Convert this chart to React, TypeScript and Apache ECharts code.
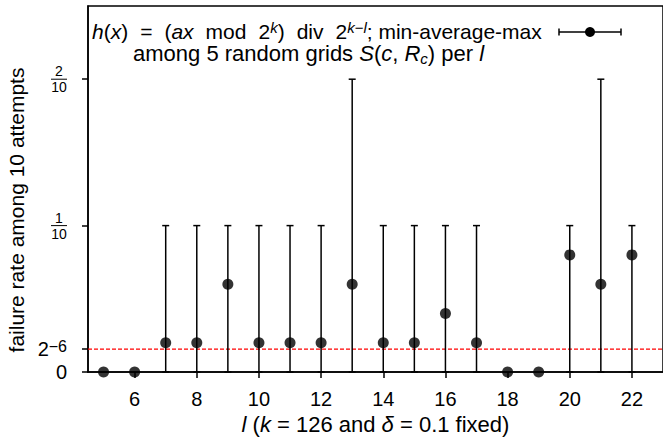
import React, { useEffect, useRef } from 'react';
import * as echarts from 'echarts';

const lValues = [5, 6, 7, 8, 9, 10, 11, 12, 13, 14, 15, 16, 17, 18, 19, 20, 21, 22];
const minRates = [0, 0, 0, 0, 0, 0, 0, 0, 0, 0, 0, 0, 0, 0, 0, 0, 0, 0];
const avgRates = [0, 0, 0.02, 0.02, 0.06, 0.02, 0.02, 0.02, 0.06, 0.02, 0.02, 0.04, 0.02, 0, 0, 0.08, 0.06, 0.08];
const maxRates = [0, 0, 0.1, 0.1, 0.1, 0.1, 0.1, 0.1, 0.2, 0.1, 0.1, 0.1, 0.1, 0, 0, 0.1, 0.2, 0.1];
const xTickValues = [6, 8, 10, 12, 14, 16, 18, 20, 22];
const threshold = Math.pow(2, -6);
const yTickValues = [0, threshold, 0.1, 0.2];
const xMin = 4.5;
const xMax = 23;
const yMin = 0;
const yMax = 0.25;

const FONT = '"Liberation Sans", Arial, Helvetica, sans-serif';
const LH = 24;

function makeRich(size: number) {
  return {
    i: { fontStyle: 'italic', fontSize: size, fontFamily: FONT, color: '#000', lineHeight: LH },
    g: { fontSize: size, fontFamily: FONT, width: 12, lineHeight: LH },
    s: { fontSize: 15, fontFamily: FONT, color: '#000', verticalAlign: 'top', lineHeight: 10 },
    si: { fontSize: 15, fontStyle: 'italic', fontFamily: FONT, color: '#000', verticalAlign: 'top', lineHeight: 10 },
    sb: { fontSize: 15, fontStyle: 'italic', fontFamily: FONT, color: '#000', verticalAlign: 'bottom', lineHeight: 14 },
  };
}

export default function App() {
  const ref = useRef<HTMLDivElement>(null);
  useEffect(() => {
    if (!ref.current) return;
    const chart = echarts.init(ref.current, null, { renderer: 'svg' });
    const barData = lValues.map((l, i) => [l, minRates[i], maxRates[i]]);
    const avgData = lValues.map((l, i) => [l, avgRates[i]]);
    const option: any = {
      animation: false,
      backgroundColor: '#fff',
      grid: { left: 88, right: -3, top: 6, bottom: 71, show: true, borderColor: '#000', borderWidth: 1.5, backgroundColor: 'transparent' },
      title: [
        {
          text: '{i|h}({i|x}){g| }={g| }({i|ax}{g| }mod{g| }2{si|k}){g| }div{g| }2{si|k}{s|−}{si|l}; min-average-max',
          left: 92, top: 19.5, padding: 0,
          textStyle: { fontSize: 21, fontWeight: 'normal', fontFamily: FONT, color: '#000', lineHeight: LH, rich: makeRich(21) },
        },
        {
          text: 'among 5 random grids {i|S}({i|c}, {i|R}{sb|c}) per {i|l}',
          left: 133, top: 41.5, padding: 0,
          textStyle: { fontSize: 22, fontWeight: 'normal', fontFamily: FONT, color: '#000', lineHeight: LH, rich: makeRich(22) },
        },
      ],
      xAxis: {
        type: 'value', min: xMin, max: xMax,
        splitLine: { show: false },
        axisLine: { show: true, onZero: false, lineStyle: { color: '#000', width: 1.5 } },
        axisTick: { show: true, customValues: xTickValues, length: 6, lineStyle: { color: '#000', width: 1.5 } },
        axisLabel: { customValues: xTickValues, margin: 17, fontSize: 20, fontFamily: FONT, color: '#000' },
        name: '{i|l} ({i|k} = 126 and {i|δ} = 0.1 fixed)',
        nameLocation: 'middle', nameGap: 39,
        nameTextStyle: { fontSize: 22, fontFamily: FONT, color: '#000', rich: { i: { fontStyle: 'italic', fontSize: 22, fontFamily: FONT, color: '#000' } } },
      },
      yAxis: {
        type: 'value', min: yMin, max: yMax,
        splitLine: { show: false },
        axisLine: { show: true, lineStyle: { color: '#000', width: 1.5 } },
        axisTick: { show: true, customValues: yTickValues, length: 6, lineStyle: { color: '#000', width: 1.5 } },
        axisLabel: {
          customValues: yTickValues, margin: 21, fontSize: 20, fontFamily: FONT, color: '#000',
          formatter: (v: number) => {
            if (v === 0) return '0';
            if (Math.abs(v - threshold) < 1e-9) return '{b|2}{s|−6}';
            const num = Math.round(v * 10);
            return '{n|' + num + '}\n{bar| }\n{n|10}';
          },
          rich: {
            b: { fontSize: 20, fontFamily: FONT, color: '#000', lineHeight: 22 },
            s: { fontSize: 16, fontFamily: FONT, color: '#000', verticalAlign: 'top', lineHeight: 13 },
            n: { fontSize: 14, fontFamily: FONT, color: '#000', lineHeight: 13, align: 'center' },
            bar: { width: 16, height: 1, lineHeight: 3, backgroundColor: '#000', align: 'center', fontSize: 1 },
          },
        },
      },
      graphic: [
        {
          type: 'text', x: 16, y: 210, rotation: Math.PI / 2,
          style: { text: 'failure rate among 10 attempts', fontSize: 21, fontFamily: FONT, fill: '#000', align: 'center', verticalAlign: 'middle' },
        },
        {
          type: 'group', x: 590, y: 32,
          children: [
            { type: 'line', shape: { x1: -31, y1: 0, x2: 31, y2: 0 }, style: { stroke: '#000', lineWidth: 1.5 } },
            { type: 'line', shape: { x1: -31, y1: -3.5, x2: -31, y2: 3.5 }, style: { stroke: '#000', lineWidth: 1.5 } },
            { type: 'line', shape: { x1: 31, y1: -3.5, x2: 31, y2: 3.5 }, style: { stroke: '#000', lineWidth: 1.5 } },
            { type: 'circle', shape: { cx: 0, cy: 0, r: 5 }, style: { fill: '#000' } },
          ],
        },
      ],
      series: [
        {
          type: 'line',
          data: [[xMin, threshold], [xMax, threshold]],
          symbol: 'none',
          color: '#ff0000',
          lineStyle: { color: '#ff0000', type: [4, 2], width: 1.3 },
          z: 2,
          silent: true,
        },
        {
          type: 'custom',
          data: barData,
          encode: { x: 0, y: [1, 2] },
          clip: false,
          renderItem: (params: any, api: any) => {
            const x = api.value(0);
            const lo = api.value(1);
            const hi = api.value(2);
            if (hi === lo) return { type: 'group', children: [] };
            const pLo = api.coord([x, lo]);
            const pHi = api.coord([x, hi]);
            const cap = 3.5;
            const style = { stroke: '#000', lineWidth: 1.5 };
            return {
              type: 'group',
              children: [
                { type: 'line', shape: { x1: pLo[0], y1: pLo[1], x2: pHi[0], y2: pHi[1] }, style },
                { type: 'line', shape: { x1: pHi[0] - cap, y1: pHi[1], x2: pHi[0] + cap, y2: pHi[1] }, style },
                { type: 'line', shape: { x1: pLo[0] - cap, y1: pLo[1], x2: pLo[0] + cap, y2: pLo[1] }, style },
              ],
            };
          },
          z: 3,
        },
        {
          type: 'scatter',
          data: avgData,
          symbol: 'circle',
          symbolSize: 11,
          itemStyle: { color: '#000' },
          clip: false,
          z: 4,
        },
      ],
    };
    chart.setOption(option);
    return () => chart.dispose();
  }, []);
  return <div ref={ref} style={{ position: 'fixed', left: 0, top: 0, width: 663, height: 443 }} />;
}
